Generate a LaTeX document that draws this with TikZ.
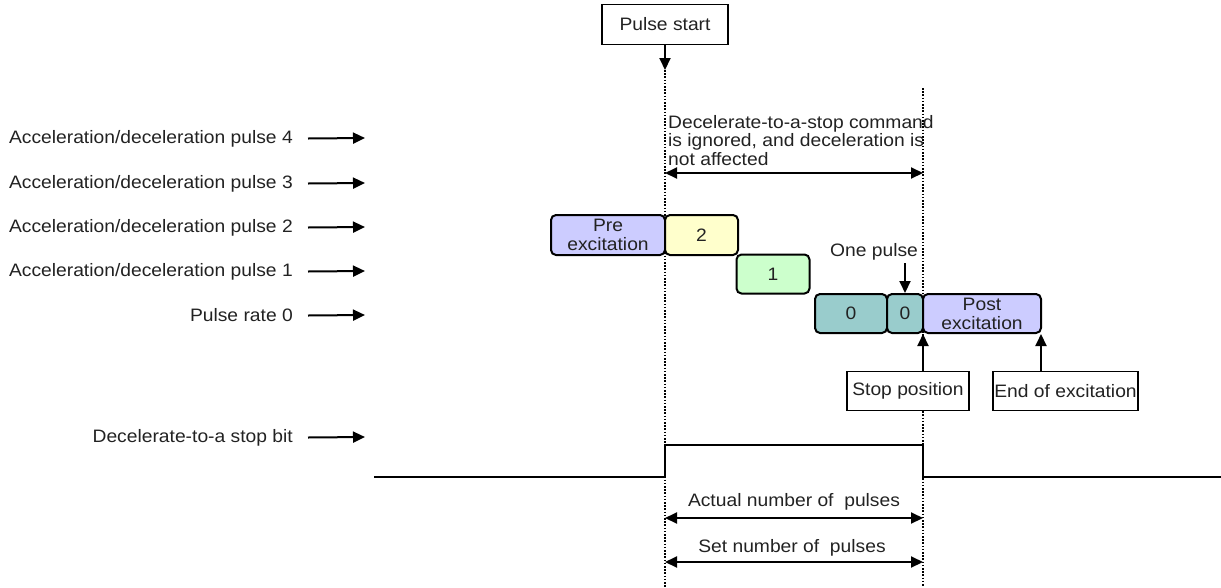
\documentclass[tikz,border=0pt]{standalone}
\usepackage{fontspec}
\setmainfont{Liberation Sans}[FakeStretch=1.07]
\usetikzlibrary{arrows.meta}
\definecolor{txt}{HTML}{222222}
\definecolor{lav}{HTML}{CCCCFF}
\definecolor{lyel}{HTML}{FFFFCC}
\definecolor{lgrn}{HTML}{CCFFCC}
\definecolor{teal0}{HTML}{99CCCC}
\tikzset{
  every node/.style={text=txt, font=\fontsize{18}{18}\selectfont},
  lbl/.style={anchor=east, inner sep=0},
  arr/.style={line width=2, -{Triangle[length=12,width=11]}},
  darr/.style={line width=2, {Triangle[length=12,width=11]}-{Triangle[length=12,width=11]}},
  dots/.style={line width=1.6, dash pattern=on 1.6 off 1.6},
  pbox/.style={draw, line width=2, rounded corners=5, inner sep=0, align=center, font=\fontsize{18}{19}\selectfont},
  tbox/.style={draw, fill=white, line width=1.8, inner sep=0, align=center},
}
\begin{document}
\begin{tikzpicture}[x=1pt,y=-1pt]
\useasboundingbox (0,0) rectangle (1221,587);

% top box and dotted guides
\node[tbox, minimum width=126, minimum height=40] (ps) at (665,24.5) {Pulse start};
\coordinate (psend) at (665,70);
\draw[arr] (ps.south) -- (psend);
\coordinate (lbot) at (665,587);
\coordinate (rtop) at (923,88);
\coordinate (rbot) at (923,587);
\draw[dots] (psend) -- (lbot);
\draw[dots] (rtop) -- (rbot);

% left labels
\node[lbl] (l4) at (293,138.5) {Acceleration/deceleration pulse 4};
\node[lbl] (l3) at (293,183.5) {Acceleration/deceleration pulse 3};
\node[lbl] (l2) at (293,227.5) {Acceleration/deceleration pulse 2};
\node[lbl] (l1) at (293,271.5) {Acceleration/deceleration pulse 1};
\node[lbl] (l0) at (293,315.5) {Pulse rate 0};
\node[lbl] (ls) at (293,437.5) {Decelerate-to-a stop bit};
\foreach \n/\y in {l4/138,l3/183,l2/227,l1/271,l0/315,ls/437}{
  \coordinate (\n e) at (365,\y);
  \draw[arr] ([xshift=15]\n.east) -- (\n e);
}

% ignored command text and arrow
\node[anchor=north west, inner sep=0, align=left, font=\fontsize{18}{18.5}\selectfont] (ign) at (668,115)
  {Decelerate-to-a-stop command\\is ignored, and deceleration is\\not affected};
\coordinate (ignl) at (665,173);
\coordinate (ignr) at (923,173);
\draw[darr] (ignl) -- (ignr);

% pulse boxes
\node[pbox, fill=lav, minimum width=114, minimum height=40] (pre) at (608,235) {Pre\\excitation};
\node[pbox, fill=lyel, minimum width=73, minimum height=40] (b2) at (701.5,235) {2};
\node[pbox, fill=lgrn, minimum width=73, minimum height=39] (b1) at (773,274) {1};
\node[pbox, fill=teal0, minimum width=72, minimum height=39] (b0a) at (851,313.5) {0};
\node[pbox, fill=teal0, minimum width=36, minimum height=39] (b0b) at (905,313.5) {0};
\node[pbox, fill=lav, minimum width=118, minimum height=39] (post) at (982,313.5) {Post\\excitation};

% one pulse
\node (op) at (874,252) {One pulse};
\coordinate (opt) at (905,263);
\draw[arr] (opt) -- (b0b.north);

% stop / end boxes
\node[tbox, minimum width=122, minimum height=39] (stop) at (908,391) {Stop position};
\node[tbox, minimum width=145, minimum height=39] (endx) at (1065.5,391) {End of excitation};
\coordinate (stopa) at (923,334);
\coordinate (enda) at (1041,334);
\draw[arr] (stop.north -| stopa) -- (stopa);
\draw[arr] (endx.north -| enda) -- (enda);

% signal
\coordinate (s0) at (374,477);
\coordinate (s1) at (665,477);
\coordinate (s2) at (665,445);
\coordinate (s3) at (923,445);
\coordinate (s4) at (923,477);
\coordinate (s5) at (1221,477);
\draw[line width=2] (s0) -- (s1) -- (s2) -- (s3) -- (s4) -- (s5);

% counts
\node (act) at (794,502) {Actual number of\ \ pulses};
\coordinate (actl) at (665,518);
\coordinate (actr) at (923,518);
\draw[darr] (actl) -- (actr);
\node (set) at (792,548) {Set number of\ \ pulses};
\coordinate (setl) at (665,562);
\coordinate (setr) at (923,562);
\draw[darr] (setl) -- (setr);
\end{tikzpicture}
\end{document}
